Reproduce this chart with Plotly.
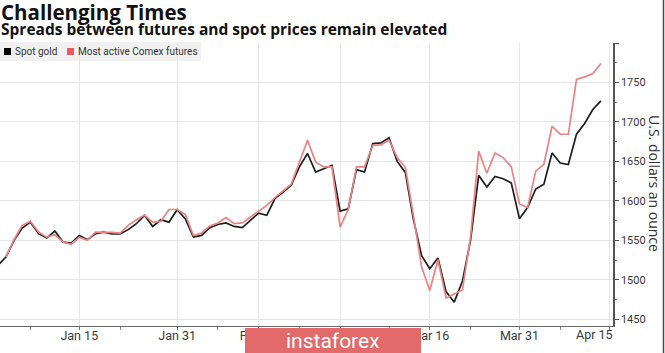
import pandas as pd
import plotly.graph_objects as go

# ---------------- data ----------------
dates = pd.bdate_range("2020-01-01", "2020-04-14")  # weekdays

spot_gold = [
    1518.0, 1528.7, 1550.0, 1565.5, 1573.0, 1558.4, 1552.8, 1561.7, 1547.7, 1546.5,
    1556.0, 1550.7, 1558.4, 1560.4, 1558.0, 1558.0, 1563.5, 1571.0, 1581.6, 1567.6,
    1576.0, 1573.0, 1588.8, 1577.4, 1554.0, 1556.2, 1566.0, 1570.0, 1572.0, 1567.6,
    1566.0, 1575.0, 1584.5, 1581.6, 1602.8, 1611.0, 1619.7, 1643.0, 1660.0, 1636.5,
    1641.0, 1645.0, 1587.0, 1590.0, 1639.6, 1636.5, 1672.6, 1673.4, 1680.0, 1650.0,
    1636.0, 1576.0, 1530.5, 1514.0, 1527.5, 1485.0, 1471.6, 1498.0, 1550.0, 1632.4,
    1617.5, 1631.0, 1628.0, 1622.6, 1577.4, 1591.5, 1615.0, 1621.0, 1660.7, 1648.0,
    1646.0, 1684.4, 1698.0, 1715.7, 1726.6,
]

comex_futures = [
    1529.0, 1551.0, 1569.0, 1574.0, 1560.4, 1554.0, 1557.0, 1548.0, 1545.0,
    1554.0, 1550.0, 1560.4, 1560.0, 1560.0, 1559.0, 1569.0, 1576.0, 1582.0, 1573.0,
    1574.0, 1589.0, 1589.0, 1583.0, 1556.0, 1559.0, 1568.0, 1572.0, 1578.7, 1571.0,
    1572.0, 1579.5, 1587.0, 1594.3, 1604.0, 1612.0, 1621.0, 1649.0, 1676.8, 1649.0,
    1643.0, 1643.0, 1566.8, 1589.0, 1643.0, 1643.0, 1670.4, 1671.0, 1676.8, 1655.0,
    1642.5, 1581.0, 1516.0, 1486.4, 1525.4, 1477.0, 1482.0, 1487.0, 1554.0, 1663.0,
    1635.0, 1660.7, 1654.8, 1643.0, 1596.0, 1591.5, 1637.6, 1646.3, 1694.5, 1684.4,
    1684.4, 1753.8, 1757.0, 1761.4, 1774.0,
]
futures_dates = dates[1:]

tick_dates = ["2020-01-15", "2020-01-31", "2020-02-14", "2020-02-28",
              "2020-03-16", "2020-03-31", "2020-04-15"]
# the Feb 28 label is hidden behind the watermark in the reference
tick_labels = ["Jan 15", "Jan 31", "Feb 14", "", "Mar 16", "Mar 31", "Apr 15"]
minor_tick_dates = ["2020-01-07", "2020-01-22", "2020-02-07", "2020-02-21",
                    "2020-03-09", "2020-03-23", "2020-04-07"]

y_ticks = [1450, 1500, 1550, 1600, 1650, 1700, 1750, 1800]
y_labels = ["1450", "1500", "1550", "1600", "1650", "1700", "1750", ""]

series_names = ["Spot gold", "Most active Comex futures"]
title = "Challenging Times"
subtitle = "Spreads between futures and spot prices remain elevated"
y_title = "U.S. dollars an ounce"
watermark = "instaforex"

# ---------------- styling / geometry ----------------
W, H = 665, 353
ML, MR, MT, MB = 0, 52, 43, 27
PW, PH = W - ML - MR, H - MT - MB


def px_x(x):
    return (x - ML) / PW


def px_y(y):
    return (H - MB - y) / PH


BLACK = "#1e1e1e"
RED = "#ec8383"
SANS = "Roboto, Liberation Sans, sans-serif"
BOLD = "Open Sans, sans-serif"

fig = go.Figure()
fig.add_trace(go.Scatter(x=dates, y=spot_gold, mode="lines", name=series_names[0],
                         line=dict(color=BLACK, width=1.7), showlegend=False))
fig.add_trace(go.Scatter(x=futures_dates, y=comex_futures, mode="lines", name=series_names[1],
                         line=dict(color=RED, width=1.7), showlegend=False))

fig.update_layout(
    width=W, height=H,
    margin=dict(l=ML, r=MR, t=MT, b=MB, pad=0),
    paper_bgcolor="white", plot_bgcolor="white",
    showlegend=False,
)

fig.update_xaxes(
    type="date",
    rangebreaks=[dict(bounds=["sat", "mon"])],
    range=["2020-01-01 06:29", "2020-04-15 11:31"],
    tickvals=tick_dates,
    ticktext=tick_labels[:-1] + [""],
    tickfont=dict(family=SANS, size=12.5, color="#3a3a3a"),
    ticks="outside", ticklen=3, tickcolor="#777",
    ticklabelstandoff=-5,
    showgrid=True, gridcolor="#e6e6e6", gridwidth=1,
    showline=True, linecolor="#6a6a6a", linewidth=1.2,
    minor=dict(tickvals=minor_tick_dates, ticks="outside", ticklen=3,
               tickcolor="#888", showgrid=False),
    zeroline=False,
)

fig.update_yaxes(
    side="right",
    range=[1441.4, 1800],
    tickvals=y_ticks,
    ticktext=y_labels,
    tickfont=dict(family=SANS, size=11, color="#3a3a3a"),
    ticks="outside", ticklen=4, tickcolor="#555",
    showgrid=True, gridcolor="#e6e6e6", gridwidth=1,
    showline=True, linecolor="#555", linewidth=1.5,
    minor=dict(dtick=25, ticks="outside", ticklen=2, tickcolor="#777", showgrid=False),
    zeroline=False,
)

shapes = []
# legend box
shapes.append(dict(type="rect", xref="paper", yref="paper",
                   x0=px_x(0), x1=px_x(201), y0=px_y(61), y1=px_y(42),
                   fillcolor="#f1f1f1", line=dict(width=0), layer="below"))
# legend squares
shapes.append(dict(type="rect", xref="paper", yref="paper",
                   x0=px_x(4), x1=px_x(11), y0=px_y(55), y1=px_y(48),
                   fillcolor="#000000", line=dict(width=0)))
shapes.append(dict(type="rect", xref="paper", yref="paper",
                   x0=px_x(67), x1=px_x(74), y0=px_y(55), y1=px_y(48),
                   fillcolor="#ea5a5f", line=dict(width=0)))
# right border line
shapes.append(dict(type="line", xref="paper", yref="paper",
                   x0=px_x(663.5), x1=px_x(663.5), y0=px_y(H), y1=px_y(0),
                   line=dict(color="#4a4a4a", width=1.5)))
# watermark box
shapes.append(dict(type="rect", xref="paper", yref="paper",
                   x0=px_x(245), x1=px_x(421), y0=px_y(H + 2), y1=px_y(328),
                   fillcolor="#e26a6b", line=dict(width=0), layer="above"))

annotations = [
    dict(text=f"<b>{title}</b>", xref="paper", yref="paper", x=px_x(-1), y=px_y(12),
         xanchor="left", yanchor="middle", showarrow=False,
         font=dict(family=BOLD, size=20.5, color="#111")),
    dict(text=f"<b>{subtitle}</b>", xref="paper", yref="paper", x=px_x(-1), y=px_y(28.5),
         xanchor="left", yanchor="middle", showarrow=False,
         font=dict(family=BOLD, size=15.5, color="#111")),
    dict(text=series_names[0], xref="paper", yref="paper", x=px_x(13), y=px_y(51.5),
         xanchor="left", yanchor="middle", showarrow=False,
         font=dict(family=SANS, size=10, color="#333")),
    dict(text=series_names[1], xref="paper", yref="paper", x=px_x(76), y=px_y(51.5),
         xanchor="left", yanchor="middle", showarrow=False,
         font=dict(family=SANS, size=10, color="#333")),
    dict(text=y_title, xref="paper", yref="paper", x=px_x(655), y=px_y(183),
         xanchor="center", yanchor="middle", textangle=90, showarrow=False,
         font=dict(family=BOLD, size=14, color="#333")),
    dict(text=tick_labels[-1], xref="paper", yref="paper", x=px_x(594), y=px_y(334),
         xanchor="center", yanchor="middle", showarrow=False,
         font=dict(family=SANS, size=12.5, color="#3a3a3a")),
    dict(text=watermark, xref="paper", yref="paper", x=px_x(333), y=px_y(340.5),
         xanchor="center", yanchor="middle", showarrow=False,
         font=dict(family=SANS, size=21, color="white")),
]

fig.update_layout(shapes=shapes, annotations=annotations)
fig.write_html("out.html")
